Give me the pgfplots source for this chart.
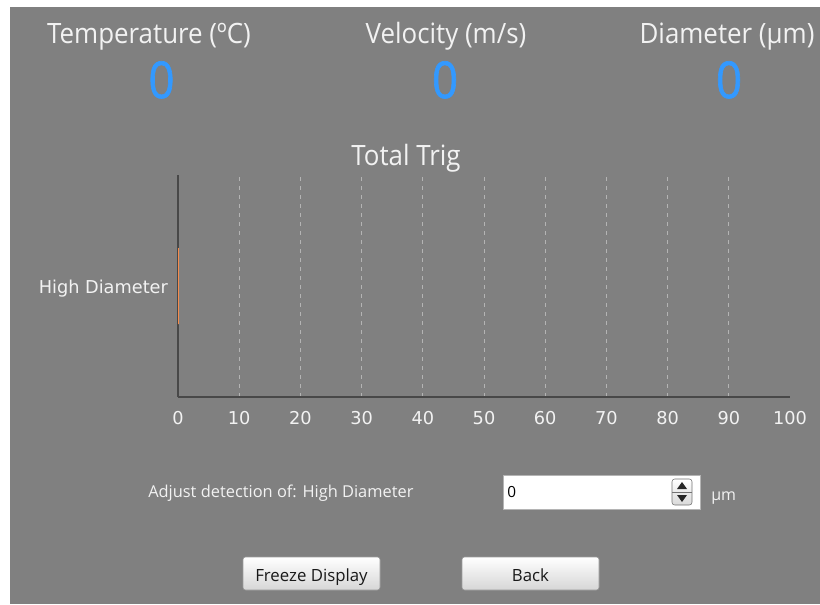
\documentclass[border=0pt]{standalone}
\usepackage{pgfplots}
\pgfplotsset{compat=1.18}
\usepackage{fontspec}
\setmainfont{DejaVu Sans}
\newfontfamily\headfont[FakeStretch=0.925]{Open Sans}
\newfontfamily\numfont[FakeStretch=0.9, FakeBold=1.3]{Open Sans}
\newfontfamily\uifont{Open Sans}
\newfontfamily\tickfont{DejaVu Sans}

\definecolor{panel}{HTML}{808080}
\definecolor{txt}{HTML}{F2F2F2}
\definecolor{valblue}{HTML}{3399FF}
\definecolor{axdark}{HTML}{484848}
\definecolor{gridc}{HTML}{B4B4B4}
\definecolor{barorange}{HTML}{F58B4C}
\definecolor{btnborder}{HTML}{9A9A9A}

\begin{document}
\begin{tikzpicture}
% panel, 1 unit = 1 screen pixel, y downward
\begin{scope}[x=0.75pt, y=-0.75pt]
  \fill[white] (0,0) rectangle (820,604);
  \fill[panel] (10,7) rectangle (820,604);

  % readouts
  \begin{scope}[every node/.style={inner sep=0pt, anchor=base, text=txt, font=\headfont\fontsize{21}{24}\selectfont}]
    \node at (149,43) {Temperature (ºC)};
    \node at (446,43) {Velocity (m/s)};
    \node at (727,43) {Diameter (µm)};
    \node at (406,165) {Total Trig};
  \end{scope}
  \begin{scope}[every node/.style={inner sep=0pt, anchor=base, text=valblue, font=\numfont\fontsize{38}{42}\selectfont}]
    \node at (161.5,98) {0};
    \node at (445,98) {0};
    \node at (729,98) {0};
  \end{scope}

  % detection row
  \node[inner sep=0pt, anchor=base west, text=txt, font=\uifont\fontsize{12.3}{14}\selectfont] at (148,497) {Adjust detection of: High Diameter};
  \draw[fill=white, draw=gridc] (503,475) rectangle (700,509);
  \node[inner sep=0pt, anchor=base west, text=black, font=\uifont\fontsize{11.5}{14}\selectfont] at (507,497) {0};
  \draw[rounded corners=2pt, top color=white, bottom color=black!15, draw=black!55] (672,479) rectangle (692,505);
  \draw[black!55] (672,492) -- (692,492);
  \fill[black!85] (677,489) -- (687,489) -- (682,482) -- cycle;
  \fill[black!85] (677,495) -- (687,495) -- (682,502) -- cycle;
  \node[inner sep=0pt, anchor=base west, text=txt, font=\uifont\fontsize{12}{14}\selectfont] at (711,500) {µm};

  % buttons
  \draw[rounded corners=2pt, top color=white, bottom color=black!16, draw=btnborder] (243,557) rectangle (380,590);
  \draw[rounded corners=2pt, top color=white, bottom color=black!16, draw=btnborder] (462,557) rectangle (599,590);
  \node[inner sep=0pt, anchor=base, text=black!90, font=\uifont\fontsize{12.6}{15}\selectfont] at (311.5,581) {Freeze Display};
  \node[inner sep=0pt, anchor=base, text=black!90, font=\uifont\fontsize{12.6}{15}\selectfont] at (530.5,581) {Back};
\end{scope}

\begin{axis}[
    at={(133.5pt,-297.75pt)}, anchor=south west,
    scale only axis, width=459pt, height=166.5pt,
    xmin=0, xmax=100, ymin=-1, ymax=1,
    axis x line=bottom, axis y line=left,
    axis line style={-, draw=axdark, line width=1.5pt},
    xtick={0,10,...,100},
    minor xtick={10,20,...,90},
    xminorgrids=true,
    minor grid style={gridc, dash pattern=on 3pt off 3.75pt, line width=0.75pt},
    major tick length=0pt, minor tick length=0pt,
    ytick={0}, yticklabels={High Diameter},
    tick label style={font=\tickfont\fontsize{13.3}{15}\selectfont, text=txt},
    xticklabel style={yshift=-7pt},
    yticklabel style={xshift=-4pt, yshift=-2.25pt},
    /pgf/number format/assume math mode=true,
]
\addplot[xbar, bar width=57pt, draw=barorange, fill=barorange, line width=1.5pt]
    coordinates {(0,0)};
\end{axis}
\end{tikzpicture}
\end{document}
